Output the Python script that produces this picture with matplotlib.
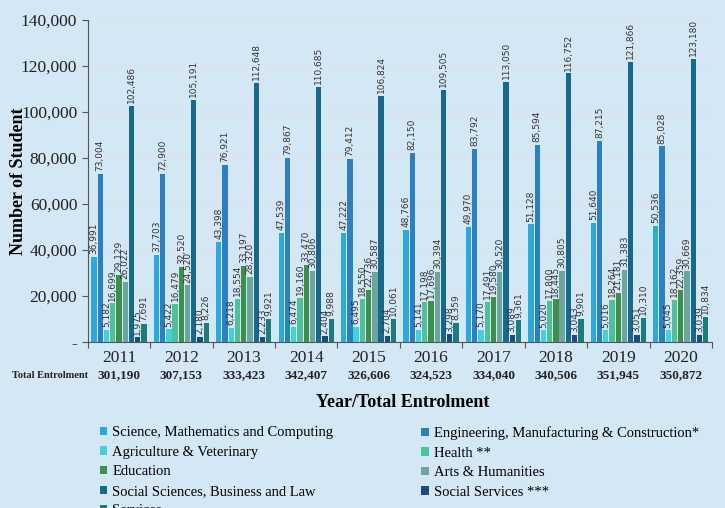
import numpy as np
import matplotlib.pyplot as plt
from matplotlib.ticker import FuncFormatter
from matplotlib.transforms import blended_transform_factory

years = ["2011", "2012", "2013", "2014", "2015", "2016", "2017", "2018", "2019", "2020"]
totals = ["301,190", "307,153", "333,423", "342,407", "326,606",
          "324,523", "334,040", "340,506", "351,945", "350,872"]

categories = ["Science, Mathematics and Computing",
              "Engineering, Manufacturing & Construction*",
              "Agriculture & Veterinary",
              "Health **",
              "Education",
              "Arts & Humanities",
              "Social Sciences, Business and Law",
              "Social Services ***",
              "Services"]

science = [36991, 37703, 43398, 47539, 47222, 48766, 49970, 51128, 51640, 50536]
engineering = [73004, 72900, 76921, 79867, 79412, 82150, 83792, 85594, 87215, 85028]
agriculture = [5182, 5422, 6218, 6474, 6495, 5141, 5170, 5020, 5016, 5045]
health = [16699, 16479, 18554, 19160, 18550, 17198, 17491, 17800, 18264, 18162]
education = [29129, 32520, 33197, 33470, 22736, 17696, 19580, 18445, 21181, 22359]
arts = [26022, 24520, 28320, 30806, 30587, 30394, 30520, 30805, 31383, 30669]
social_sci = [102486, 105191, 112648, 110685, 106824, 109505, 113050, 116752, 121866, 123180]
social_serv = [1975, 2180, 2233, 2404, 2704, 3298, 3089, 3043, 3051, 3039]
services = [7691, 8226, 9921, 9988, 10061, 8359, 9361, 9901, 10310, 10834]

series = [science, engineering, agriculture, health, education, arts,
          social_sci, social_serv, services]
colors = ["#2aa9e0", "#2b7fc3", "#40d2d8", "#4cc29a", "#3e8f4b", "#6ba59c",
          "#16698a", "#1c4c7c", "#1b7c7c"]

bg = "#d4e7f5"
serif = "Liberation Serif"

fig = plt.figure(figsize=(7.25, 5.08), dpi=100, facecolor=bg)
ax = fig.add_axes([0.121, 0.327, 0.861, 0.634], facecolor=bg)

x = np.arange(len(years))
step = 0.1
width = 0.085
handles = []
for i, (vals, col, name) in enumerate(zip(series, colors, categories)):
    pos = x + (i - 4) * step
    bars = ax.bar(pos, vals, width=width, color=col, label=name, zorder=3)
    handles.append(bars)
    for b, v in zip(bars, vals):
        ax.text(b.get_x() + b.get_width() / 2, v + 1200, f"{v:,}",
                rotation=90, ha="center", va="bottom", fontsize=6.5,
                color="#333333", zorder=4)

ax.set_ylim(0, 140000)
ax.set_xlim(-0.5, 9.5)
ax.set_yticks(np.arange(0, 140001, 20000))
ax.yaxis.set_major_formatter(FuncFormatter(lambda v, p: "-" if v == 0 else f"{int(v):,}"))
ax.grid(axis="y", color="#e3e3e3", linewidth=0.9, zorder=0)
for s in ["top", "right"]:
    ax.spines[s].set_visible(False)
for s in ["left", "bottom"]:
    ax.spines[s].set_color("#555555")

ax.set_xticks(np.arange(-0.5, 10, 1))
ax.set_xticklabels([])
ax.tick_params(axis="x", which="major", length=4, color="#555555")
ax.set_xticks(x, minor=True)
ax.set_xticklabels(years, minor=True, fontsize=12.5, family=serif, color="#222222")
ax.tick_params(axis="x", which="minor", length=0, pad=6)
ax.tick_params(axis="y", length=4, color="#555555", labelsize=12.5, labelcolor="#222222")
for lab in ax.get_yticklabels():
    lab.set_family(serif)

trans = blended_transform_factory(ax.transData, ax.transAxes)
for xi, t in zip(x, totals):
    ax.text(xi, -0.103, t, transform=trans, ha="center", va="center",
            fontsize=9.5, fontweight="bold", family=serif, color="#222222")
ax.text(-0.5, -0.103, "Total Entrolment", transform=trans, ha="right",
        va="center", fontsize=7.5, fontweight="bold", family=serif, color="#222222")

ax.set_ylabel("Number of Student", fontsize=13, fontweight="bold", family=serif)
ax.yaxis.set_label_coords(-0.098, 0.5)
fig.text(0.555, 0.208, "Year/Total Entrolment", ha="center", va="center",
         fontsize=13, fontweight="bold", family=serif)

legend_kw = dict(loc="upper left", frameon=False,
                 prop={"family": serif, "size": 10.5}, handlelength=0.5,
                 handleheight=0.5, handletextpad=0.35, labelspacing=0.45,
                 borderaxespad=0, borderpad=0)
left_idx = [0, 2, 4, 6, 8]
right_idx = [1, 3, 5, 7]
leg1 = fig.legend([handles[i] for i in left_idx], [categories[i] for i in left_idx],
                  bbox_to_anchor=(0.138, 0.161), **legend_kw)
leg2 = fig.legend([handles[i] for i in right_idx], [categories[i] for i in right_idx],
                  bbox_to_anchor=(0.581, 0.161), **legend_kw)

fig.savefig("out.png", dpi=100, facecolor=bg)
